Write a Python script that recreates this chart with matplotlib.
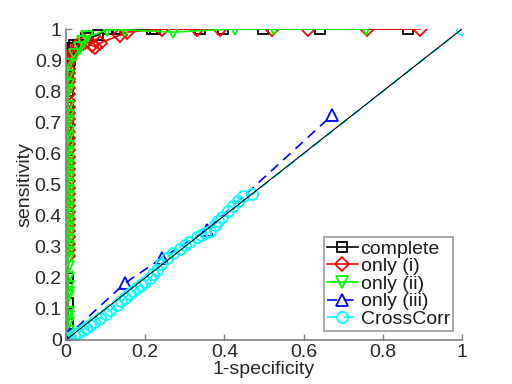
import matplotlib
matplotlib.use("Agg")
import matplotlib.pyplot as plt

plt.rcParams['font.family'] = ['Liberation Sans', 'DejaVu Sans']

# complete
black_x = [0, 0.005, 0.005, 0.005, 0.005, 0.005, 0.005, 0.005, 0.005, 0.005, 0.005, 0.005,
           0.005, 0.008, 0.01, 0.012, 0.015, 0.02, 0.03, 0.05, 0.08, 0.106, 0.129, 0.217,
           0.225, 0.338, 0.396, 0.497, 0.641, 0.864]
black_y = [0, 0.05, 0.12, 0.2, 0.3, 0.4, 0.5, 0.58, 0.65, 0.7, 0.75, 0.8,
           0.85, 0.88, 0.9, 0.92, 0.94, 0.95, 0.95, 0.97, 0.98, 1, 1, 1,
           1, 1, 1, 1, 1, 1]

# only (i)
red_x = [0, 0.005, 0.005, 0.005, 0.005, 0.005, 0.005, 0.005, 0.005, 0.005, 0.005, 0.005,
         0.005, 0.005, 0.005, 0.005, 0.005, 0.005, 0.005, 0.005, 0.005, 0.005, 0.005, 0.005,
         0.005, 0.005, 0.005, 0.005, 0.005, 0.005, 0.005, 0.005, 0.005, 0.005,
         0.008, 0.012, 0.02, 0.03, 0.048, 0.065, 0.073, 0.086, 0.136, 0.154, 0.242, 0.331,
         0.39, 0.52, 0.61, 0.76, 0.894]
red_y = [0, 0.27, 0.29, 0.31, 0.33, 0.35, 0.37, 0.39, 0.41, 0.43, 0.45, 0.47,
         0.49, 0.51, 0.53, 0.55, 0.57, 0.59, 0.61, 0.63, 0.65, 0.67, 0.69, 0.71,
         0.73, 0.75, 0.77, 0.79, 0.81, 0.83, 0.84, 0.86, 0.87, 0.89,
         0.9, 0.916, 0.93, 0.948, 0.958, 0.948, 0.942, 0.955, 0.98, 0.99, 1, 1,
         1, 1, 1, 1, 1]

# only (ii)
green_x = [0, 0.005, 0.005, 0.005, 0.005, 0.005, 0.005, 0.005, 0.005, 0.005, 0.005, 0.005,
           0.005, 0.005, 0.005, 0.005, 0.005, 0.005, 0.005, 0.005, 0.005, 0.005, 0.005,
           0.005, 0.005, 0.005, 0.005, 0.005, 0.005, 0.005, 0.005, 0.005, 0.005, 0.005,
           0.005, 0.005, 0.005, 0.005, 0.005, 0.023, 0.035, 0.043, 0.053, 0.104, 0.149,
           0.27, 0.427, 0.525, 0.758]
green_y = [0, 0.01, 0.026, 0.055, 0.074, 0.087, 0.14, 0.15, 0.17, 0.2, 0.235, 0.26,
           0.28, 0.3, 0.32, 0.34, 0.36, 0.38, 0.4, 0.42, 0.44, 0.46, 0.48,
           0.5, 0.52, 0.54, 0.56, 0.58, 0.6, 0.62, 0.65, 0.67, 0.7, 0.72,
           0.75, 0.8, 0.82, 0.85, 0.884, 0.916, 0.939, 0.958, 0.974, 0.997, 0.997,
           0.99, 1, 1, 1]

# only (iii)
blue_x = [0, 0.01, 0.149, 0.242, 0.356, 0.672]
blue_y = [0, 0.02, 0.183, 0.263, 0.354, 0.723]

# CrossCorr
cyan_x = [0, 0.005, 0.01, 0.02, 0.03, 0.043, 0.05, 0.06, 0.07, 0.086, 0.1, 0.11, 0.128,
          0.14, 0.15, 0.16, 0.17, 0.179, 0.19, 0.2, 0.212, 0.22, 0.23, 0.24, 0.255, 0.27,
          0.288, 0.3, 0.31, 0.33, 0.34, 0.35, 0.364, 0.375, 0.385, 0.394, 0.41, 0.422,
          0.435, 0.447, 0.47, 1]
cyan_y = [0, 0.005, 0.008, 0.015, 0.022, 0.033, 0.04, 0.048, 0.057, 0.072, 0.085, 0.095, 0.112,
          0.125, 0.136, 0.147, 0.157, 0.167, 0.178, 0.188, 0.198, 0.212, 0.226, 0.245, 0.264, 0.28,
          0.294, 0.304, 0.314, 0.331, 0.338, 0.344, 0.352, 0.37, 0.383, 0.394, 0.414, 0.43,
          0.447, 0.463, 0.468, 1]

diag = [0, 1]

x_ticks = [0, 0.2, 0.4, 0.6, 0.8, 1]
y_ticks = [0, 0.1, 0.2, 0.3, 0.4, 0.5, 0.6, 0.7, 0.8, 0.9, 1]

fig = plt.figure(figsize=(5.12, 3.84), dpi=100)
ax = fig.add_axes([66/512, 44/384, 396/512, 311/384])

lw = 1.2
ms = 7
mew = 1.3
ax.plot(black_x, black_y, '-s', color='k', lw=lw, ms=ms, mfc='none', mew=mew, label='complete')
ax.plot(red_x, red_y, '-D', color='red', lw=lw, ms=ms, mfc='none', mew=mew, label='only (i)')
ax.plot(green_x, green_y, '-v', color='#00ff00', lw=lw, ms=ms+1, mfc='none', mew=mew, label='only (ii)')
ax.plot(blue_x, blue_y, '--^', color='#0000ff', lw=lw, ms=ms+1, mfc='none', mew=mew,
        dashes=(6, 4), label='only (iii)')
ax.plot(cyan_x, cyan_y, '--o', color='cyan', lw=lw, ms=ms+1, mfc='none', mew=mew,
        dashes=(6, 4), label='CrossCorr')
ax.plot(diag, diag, '-', color='k', lw=0.8)

ax.set_xlim(0, 1)
ax.set_ylim(0, 1)
ax.set_xticks(x_ticks)
ax.set_xticklabels(['0', '0.2', '0.4', '0.6', '0.8', '1'])
ax.set_yticks(y_ticks)
ax.set_yticklabels(['0', '0.1', '0.2', '0.3', '0.4', '0.5', '0.6', '0.7', '0.8', '0.9', '1'])

for s in ['top', 'right']:
    ax.spines[s].set_visible(False)
for s in ['left', 'bottom']:
    ax.spines[s].set_color('0.5')
    ax.spines[s].set_linewidth(1.2)
ax.tick_params(direction='in', length=4, width=1.0, color='0.5', labelsize=14,
               labelcolor='0.15', pad=3)
ax.set_xlabel('1-specificity', fontsize=14, color='0.15', labelpad=0)
ax.set_ylabel('sensitivity', fontsize=14, color='0.15', labelpad=1)

leg = ax.legend(loc='lower right', bbox_to_anchor=(0.977, 0.029), fontsize=14,
                handlelength=1.6, handletextpad=0.15, labelspacing=0.0, borderpad=0.15,
                borderaxespad=0, fancybox=False, frameon=True)
leg.get_frame().set_edgecolor('0.5')
leg.get_frame().set_linewidth(1.2)
for t in leg.get_texts():
    t.set_color('0.1')

fig.savefig('out.png', dpi=100)
